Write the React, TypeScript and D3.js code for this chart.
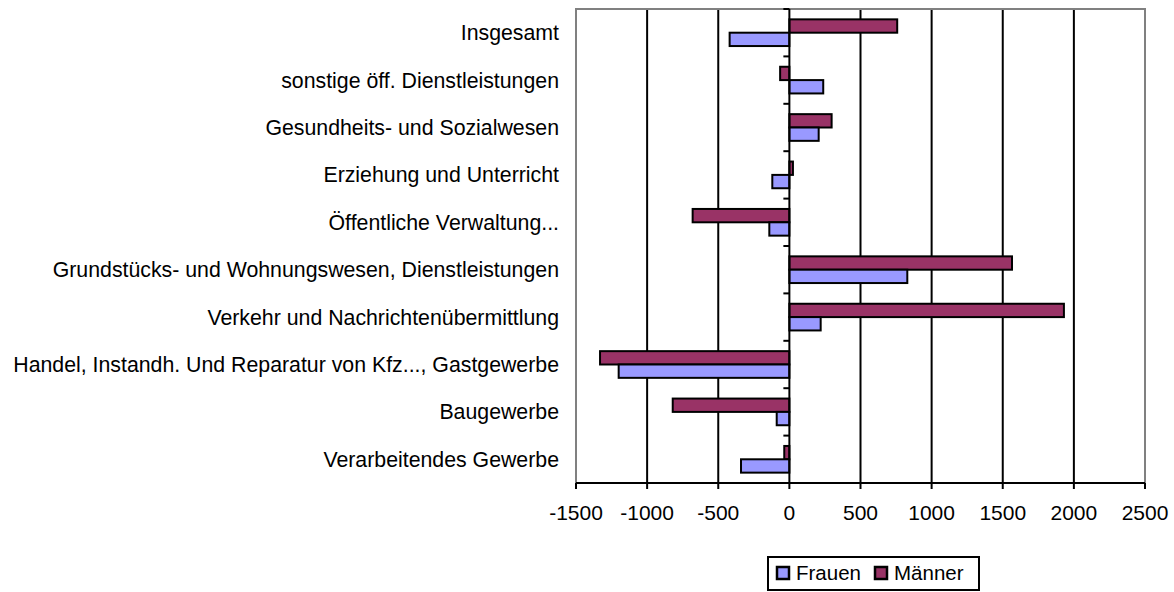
import React from "react";
import * as d3 from "d3";

// categories top to bottom
const categories = [
  "Insgesamt",
  "sonstige öff. Dienstleistungen",
  "Gesundheits- und Sozialwesen",
  "Erziehung und Unterricht",
  "Öffentliche Verwaltung...",
  "Grundstücks- und Wohnungswesen, Dienstleistungen",
  "Verkehr und Nachrichtenübermittlung",
  "Handel, Instandh. Und Reparatur von Kfz..., Gastgewerbe",
  "Baugewerbe",
  "Verarbeitendes Gewerbe",
];
const frauen = [-420, 238, 206, -120, -141, 829, 220, -1200, -89, -340];
const maenner = [758, -65, 297, 25, -680, 1565, 1930, -1331, -820, -36];
const xTicks = [-1500, -1000, -500, 0, 500, 1000, 1500, 2000, 2500];

const series = [
  { name: "Männer", values: maenner, color: "#993366" },
  { name: "Frauen", values: frauen, color: "#9999FF" },
];
const legendItems = [
  { name: "Frauen", color: "#9999FF" },
  { name: "Männer", color: "#993366" },
];

const font = "'Liberation Sans', Arial, sans-serif";

const App = () => {
  const width = 1174;
  const height = 592;
  const left = 576;
  const right = 1145;
  const top = 9;
  const bottom = 483;

  const x = d3.scaleLinear().domain([-1500, 2500]).range([left, right]);
  const y = d3
    .scaleBand()
    .domain(categories)
    .range([top, bottom])
    .paddingInner(0.437)
    .paddingOuter(0.437 / 2);
  const sub = d3
    .scaleBand()
    .domain(series.map((s) => s.name))
    .range([0, y.bandwidth()]);

  const x0 = x(0);
  const step = y.step();
  const legendX = [777, 875];

  return (
    <svg
      width={width}
      height={height}
      style={{ position: "absolute", left: 0, top: 0 }}
      fontFamily={font}
    >
      <rect width={width} height={height} fill="#fff" />
      {/* gridlines */}
      {xTicks
        .filter((t) => t !== -1500 && t !== 2500 && t !== 0)
        .map((t) => (
          <line key={t} x1={x(t)} x2={x(t)} y1={top} y2={bottom} stroke="#000" strokeWidth={2} />
        ))}
      {/* frame */}
      <path
        d={`M${left},${bottom} V${top} H${right} V${bottom}`}
        fill="none"
        stroke="#808080"
        strokeWidth={2}
      />
      {/* bars */}
      {categories.map((c, i) => (
        <g key={c} transform={`translate(0,${y(c)})`}>
          {series.map((s) => {
            const v = s.values[i];
            return (
              <rect
                key={s.name}
                x={Math.min(x(v), x0)}
                y={sub(s.name)}
                width={Math.abs(x(v) - x0)}
                height={sub.bandwidth()}
                fill={s.color}
                stroke="#000"
                strokeWidth={2}
              />
            );
          })}
        </g>
      ))}
      {/* zero axis */}
      <line x1={x0} x2={x0} y1={top} y2={bottom} stroke="#000" strokeWidth={2} />
      {categories.map((c, i) => (
        <line key={c} x1={x0 - 6} x2={x0} y1={top + i * step} y2={top + i * step} stroke="#000" strokeWidth={2} />
      ))}
      {/* x axis */}
      <line x1={left} x2={right} y1={bottom} y2={bottom} stroke="#000" strokeWidth={2} />
      {xTicks.map((t) => (
        <g key={t}>
          <line x1={x(t)} x2={x(t)} y1={bottom} y2={bottom + 6} stroke="#000" strokeWidth={2} />
          <text x={x(t)} y={520} textAnchor="middle" fontSize={21} fill="#000">
            {t}
          </text>
        </g>
      ))}
      {/* category labels */}
      {categories.map((c) => (
        <text
          key={c}
          x={559}
          y={(y(c) ?? 0) + y.bandwidth() / 2}
          dy="0.35em"
          textAnchor="end"
          fontSize={21.3}
          fill="#000"
        >
          {c}
        </text>
      ))}
      {/* legend */}
      <rect x={768} y={557} width={211} height={33} fill="#fff" stroke="#000" strokeWidth={2} />
      {legendItems.map((l, i) => (
        <g key={l.name} transform={`translate(${legendX[i]},567)`}>
          <rect width={12} height={12} fill={l.color} stroke="#000" strokeWidth={2.5} />
          <text x={19} y={13} fontSize={20.5} fill="#000">
            {l.name}
          </text>
        </g>
      ))}
    </svg>
  );
};

export default App;
